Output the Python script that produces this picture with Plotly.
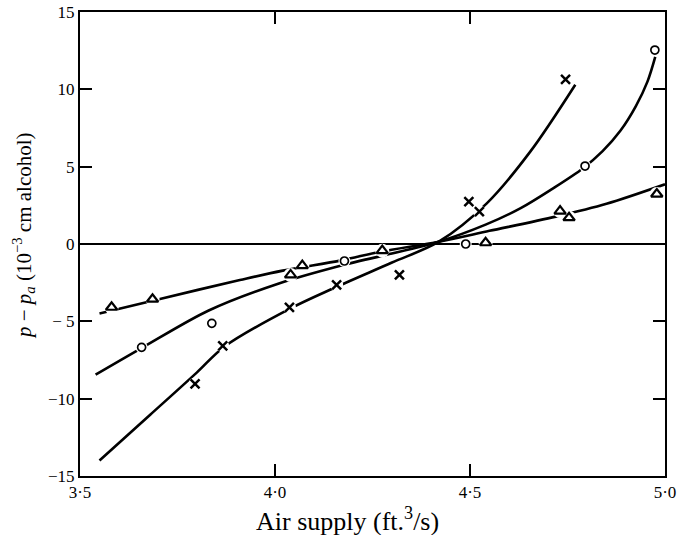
import plotly.graph_objects as go

tri_x = [3.581, 3.686, 4.040, 4.070, 4.275, 4.540, 4.731, 4.754, 4.979]
tri_y = [-4.09, -3.57, -2.00, -1.40, -0.43, 0.08, 2.13, 1.70, 3.23]

circ_x = [3.658, 3.838, 4.178, 4.489, 4.795, 4.974]
circ_y = [-6.68, -5.13, -1.10, 0.00, 5.04, 12.54]

cross_x = [3.795, 3.866, 4.037, 4.158, 4.319, 4.497, 4.524, 4.745]
cross_y = [-9.05, -6.59, -4.09, -2.65, -2.00, 2.74, 2.09, 10.65]

# ---- hand-drawn fitted curves ----
tri_fit_x = [3.55, 3.705, 3.91, 4.02, 4.17, 4.27, 4.42, 4.55, 4.72, 4.85, 5.0]
tri_fit_y = [-4.5, -3.55, -2.33, -1.72, -1.06, -0.5, 0.15, 0.85, 1.77, 2.6, 3.86]

circ_fit_x = [3.54, 3.66, 3.83, 4.01, 4.175, 4.42, 4.54, 4.63, 4.71, 4.79, 4.84, 4.885, 4.925, 4.955, 4.975]
circ_fit_y = [-8.45, -6.7, -4.3, -2.55, -1.36, 0.15, 1.25, 2.32, 3.55, 4.9, 6.0, 7.3, 8.9, 10.5, 12.1]

cross_fit_x = [3.55, 3.68, 3.80, 3.87, 4.04, 4.15, 4.30, 4.42, 4.543, 4.655, 4.77]
cross_fit_y = [-14.0, -11.04, -8.3, -6.64, -4.16, -2.86, -1.2, 0.15, 2.63, 5.99, 10.3]

x_ticks = [3.5, 4.0, 4.5, 5.0]
x_tick_text = ["3·5", "4·0", "4·5", "5·0"]
y_ticks = [15, 10, 5, 0, -5, -10, -15]
y_tick_text = ["15", "10", "5", "0", "\u2212 5", "\u221210", "\u221215"]

FONT = "Liberation Serif, Times New Roman, serif"

fig = go.Figure()

for fx, fy in [(tri_fit_x, tri_fit_y), (circ_fit_x, circ_fit_y), (cross_fit_x, cross_fit_y)]:
    fig.add_trace(go.Scatter(x=fx, y=fy, mode="lines",
                             line=dict(color="black", width=2.6, shape="spline", smoothing=0.9),
                             hoverinfo="skip", showlegend=False))

# white halos to create the gaps in the lines around markers
for mx, my, sz in [(tri_x, tri_y, 14), (circ_x, circ_y, 12), (cross_x, cross_y, 13)]:
    fig.add_trace(go.Scatter(x=mx, y=my, mode="markers",
                             marker=dict(symbol="circle", size=sz, color="white",
                                         line=dict(width=0)),
                             hoverinfo="skip", showlegend=False))

fig.add_trace(go.Scatter(x=tri_x, y=tri_y, mode="markers", name="triangles",
                         marker=dict(symbol="triangle-up-open", size=10, color="black",
                                     line=dict(width=2.2, color="black")), showlegend=False))
fig.add_trace(go.Scatter(x=circ_x, y=circ_y, mode="markers", name="circles",
                         marker=dict(symbol="circle-open", size=8, color="black",
                                     line=dict(width=1.7, color="black")), showlegend=False))
fig.add_trace(go.Scatter(x=cross_x, y=cross_y, mode="markers", name="crosses",
                         marker=dict(symbol="x-thin-open", size=9, color="black",
                                     line=dict(width=2.5, color="black")), showlegend=False))

axis_common = dict(showline=True, linecolor="black", linewidth=2, mirror="ticks",
                   ticks="inside", ticklen=12, tickwidth=2, tickcolor="black",
                   showgrid=False, automargin=False,
                   tickfont=dict(family=FONT, size=17, color="black"))

fig.update_xaxes(range=[3.5, 5.0], tickvals=x_ticks, ticktext=x_tick_text,
                 zeroline=False, **axis_common)
fig.update_yaxes(range=[-15, 15], tickvals=y_ticks, ticktext=y_tick_text,
                 zeroline=True, zerolinecolor="black", zerolinewidth=2, **axis_common)

fig.add_annotation(text="Air supply (ft.<sup>3</sup>/s)", xref="paper", yref="paper",
                   x=(347 - 80) / 585, y=-(519 - 476) / 464, showarrow=False,
                   xanchor="center", yanchor="middle",
                   font=dict(family=FONT, size=26, color="black"))
fig.add_annotation(text="<i>p</i> \u2212 <i>p<sub>a</sub></i> (10<sup>\u22123</sup> cm alcohol)",
                   xref="paper", yref="paper", textangle=-90,
                   x=-(80 - 24) / 585, y=(476 - 236) / 464, showarrow=False,
                   xanchor="center", yanchor="middle",
                   font=dict(family=FONT, size=21, color="black"))

fig.update_layout(width=677, height=535, margin=dict(l=80, r=12, t=12, b=59, autoexpand=False),
                  paper_bgcolor="white", plot_bgcolor="white")

fig.write_html("out.html")
